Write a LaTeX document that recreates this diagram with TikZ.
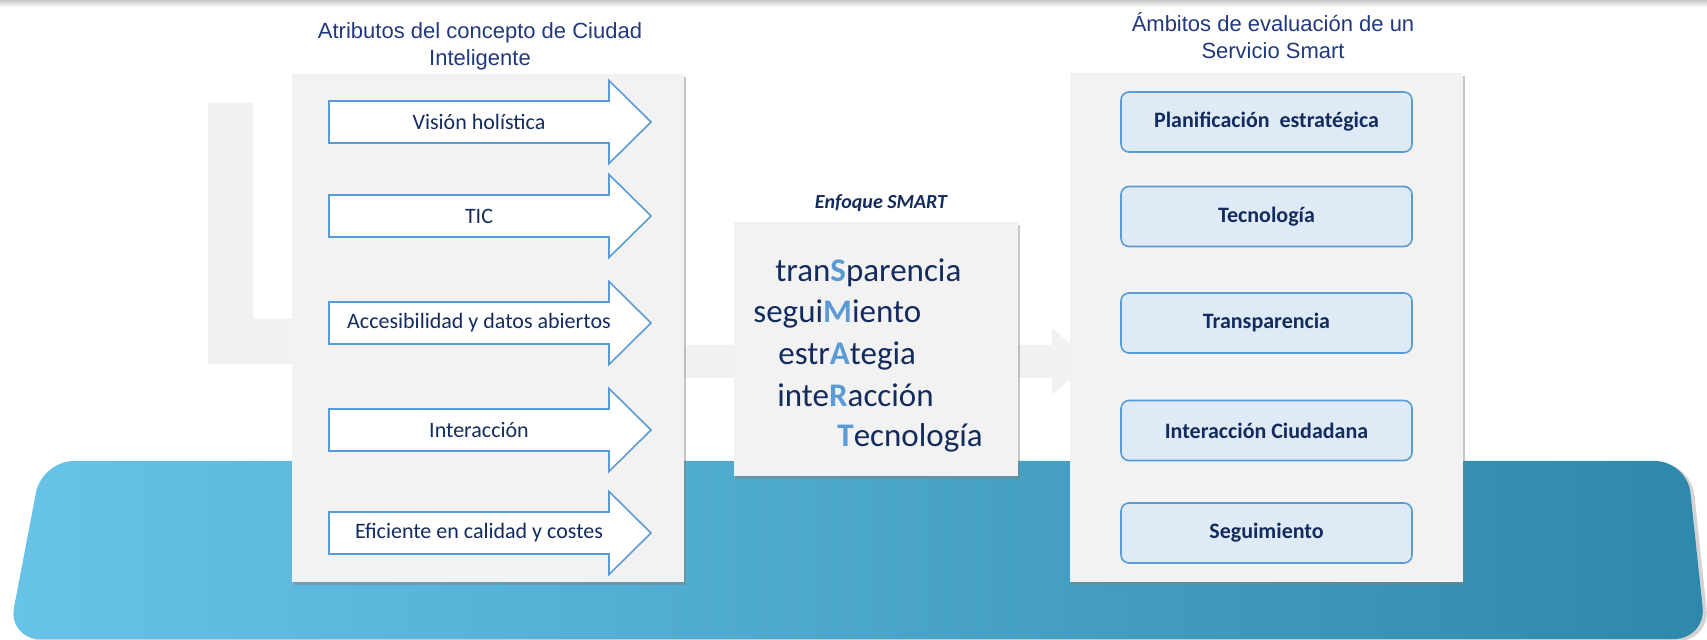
\documentclass[tikz,border=0pt]{standalone}
\usepackage{fontspec}
\setmainfont{Carlito}
\newfontfamily\arialfont{Liberation Sans}
\usetikzlibrary{shadows}
\definecolor{navy}{HTML}{142B5E}
\definecolor{tituloAzul}{HTML}{22387E}
\definecolor{azul}{HTML}{5B9BD5}
\definecolor{celeste}{HTML}{DEEBF7}
\definecolor{grisPanel}{HTML}{F2F2F2}
\definecolor{grisFondo}{HTML}{F1F1F1}
\definecolor{bandaIzq}{HTML}{67C4E8}
\definecolor{bandaDer}{HTML}{2E88AC}
\newcommand{\Letra}[1]{\textcolor{azul}{\bfseries#1}}
\begin{document}
\begin{tikzpicture}[x=.5pt,y=-.5pt,
  panel/.style={fill=grisPanel,drop shadow={shadow xshift=.8pt,shadow yshift=-1.6pt,opacity=.45}},
  titulo/.style={align=center,inner sep=0,text=tituloAzul,font=\arialfont\fontsize{11}{13.5}\selectfont},
  ambito/.style={draw=azul,line width=.8pt,fill=celeste,rounded corners=4pt,minimum width=145.5pt,minimum height=30pt,text=navy,font=\bfseries\fontsize{11}{13}\selectfont},
  smart/.style={anchor=base west,inner sep=0,text=navy,font=\fontsize{16.5}{20}\selectfont}]
\useasboundingbox (0,0) rectangle (1707,640);
\newcommand{\Flecha}[3]{\draw[azul,line width=.8pt,fill=white](329,#2-21)--(609,#2-21)--(609,#2-41.5)--(651,#2)--(609,#2+41.5)--(609,#2+21)--(329,#2+21)--cycle;
\node[text=navy,font=\fontsize{11}{13}\selectfont](#1)at(479,#2){#3};}
% sombra superior
\shade[top color=black!22,bottom color=white](0,0)rectangle(1707,7);
% flecha gris de fondo
\fill[grisFondo](208,103)--(253,103)--(253,319)--(300,319)--(300,364)--(208,364)--cycle;
\fill[grisFondo](680,345)--(1052,345)--(1052,328)--(1090,361.5)--(1052,395)--(1052,378)--(680,378)--cycle;
% banda azul
\shade[left color=bandaIzq,right color=bandaDer,rounded corners=16pt,
  drop shadow={shadow xshift=2pt,shadow yshift=-1pt,opacity=.35}]
  (42,461)--(1687,461)--(1706,639)--(8,639)--cycle;
% paneles
\fill[panel](292,74)rectangle(684,582);
\fill[panel](734,222)rectangle(1018,476);
\fill[panel](1070,73)rectangle(1463,582);
% titulos
\node[titulo](atributos)at(480,46){Atributos del concepto de Ciudad\\Inteligente};
\node[titulo](ambitos)at(1273,36){Ámbitos de evaluación de un\\Servicio Smart};
\node[text=navy,font=\bfseries\itshape\fontsize{10}{12}\selectfont](enfoque)at(881,203){Enfoque SMART};
% atributos
\Flecha{vision}{122}{Visión holística}
\Flecha{tic}{216}{TIC}
\Flecha{acceso}{323}{Accesibilidad y datos abiertos}
\Flecha{interac}{430}{Interacción}
\Flecha{eficiente}{533}{Eficiente en calidad y costes}
% enfoque SMART
\node[smart](transp)at(775,282){tran\Letra{S}parencia};
\node[smart](seguim)at(753,323){segui\Letra{M}iento};
\node[smart](estrat)at(778,365){estr\Letra{A}tegia};
\node[smart](interR)at(777,407){inte\Letra{R}acción};
\node[smart](tecno)at(837,447){\Letra{T}ecnología};
% ambitos
\node[ambito](planif)at(1266.5,122){Planificación\ \ estratégica};
\node[ambito](tecnol)at(1266.5,216.5){Tecnología};
\node[ambito](transpa)at(1266.5,323){Transparencia};
\node[ambito](ciudad)at(1266.5,430.5){Interacción Ciudadana};
\node[ambito](seguimto)at(1266.5,533){Seguimiento};
\end{tikzpicture}
\end{document}
